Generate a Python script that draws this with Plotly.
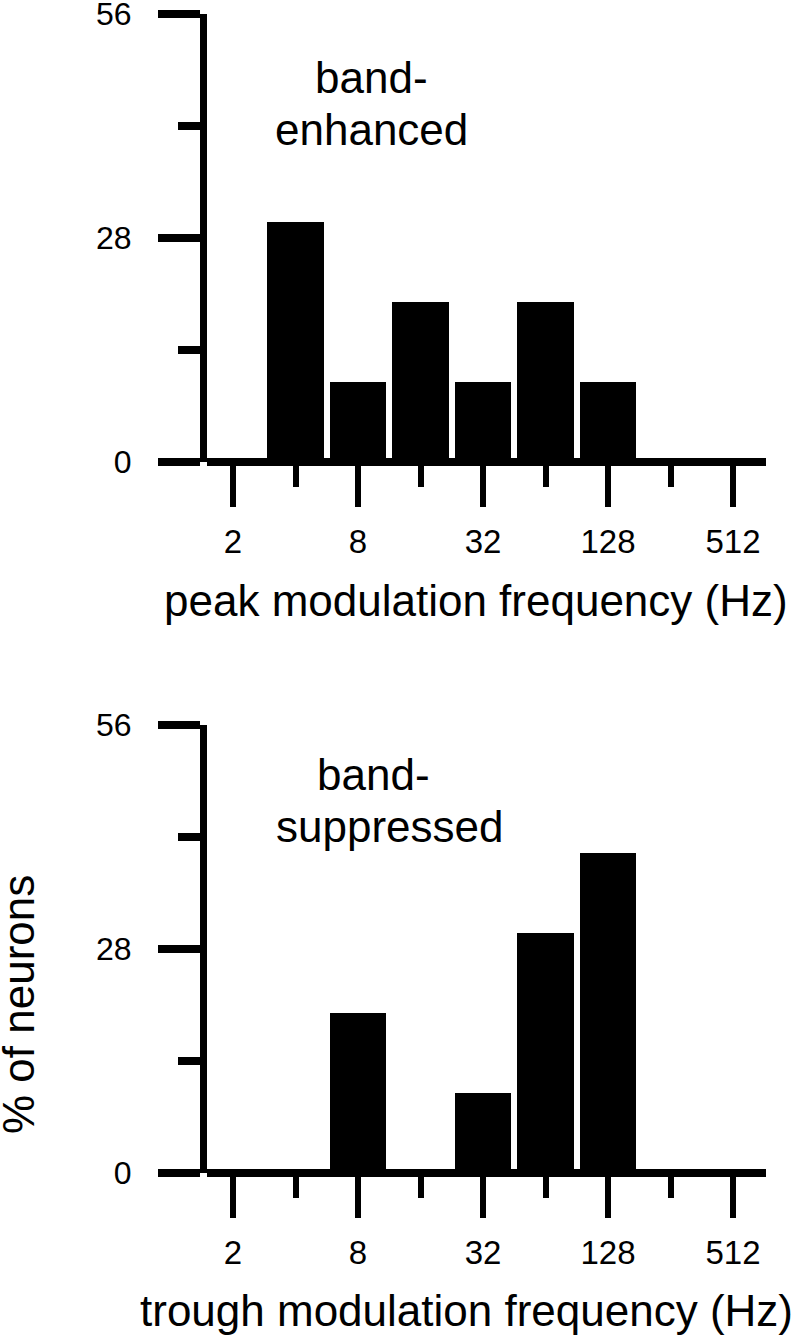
import numpy as np
import plotly.graph_objects as go

# ---- data ----
freqs = [2, 4, 8, 16, 32, 64, 128, 256, 512]           # Hz, bin centres (octave bins)
pct_enhanced = [0, 30, 10, 20, 10, 20, 10, 0, 0]        # % of band-enhanced neurons
pct_suppressed = [0, 0, 20, 0, 10, 30, 40, 0, 0]        # % of band-suppressed neurons
major_tick_freqs = [2, 8, 32, 128, 512]
major_tick_text = ["2", "8", "32", "128", "512"]
minor_tick_freqs = [4, 16, 64, 256]
y_major_ticks = [0, 28, 56]
y_minor_ticks = [14, 42]

W, H = 800, 1344
FONT = "Arial, Liberation Sans, Helvetica, sans-serif"

def px(x):
    return x / W

def py(y):
    return 1 - y / H

# pixel layout
x_left, x_right = 207, 766
octave = 62.5
x0 = 1 - (233 - x_left) / octave
x1 = x0 + (x_right - x_left) / octave

fig = go.Figure()
for i, vals in enumerate([pct_enhanced, pct_suppressed]):
    fig.add_trace(go.Bar(
        x=np.log2(freqs), y=vals, width=0.9,
        marker=dict(color="black", line=dict(width=0)),
        xaxis="x" if i == 0 else "x2", yaxis="y" if i == 0 else "y2",
        showlegend=False, hoverinfo="skip",
    ))

def xax(domain_anchor):
    return dict(
        domain=[px(x_left), px(x_right)], anchor=domain_anchor, automargin=False,
        range=[x0, x1], showgrid=False, zeroline=False, showline=False,
        tickmode="array", tickvals=np.log2(major_tick_freqs), ticktext=major_tick_text,
        ticks="outside", ticklen=44, tickwidth=6, tickcolor="black",
        minor=dict(tickmode="array", tickvals=np.log2(minor_tick_freqs),
                   ticks="outside", ticklen=24, tickwidth=6, tickcolor="black"),
        tickfont=dict(family=FONT, size=33, color="black"),
        ticklabelstandoff=6, ticklabeloverflow="allow", fixedrange=True,
    )

def yax(domain, anchor):
    return dict(
        domain=domain, anchor=anchor, range=[0, 56], automargin=False,
        showgrid=False, zeroline=True, zerolinewidth=8, zerolinecolor="black",
        showline=True, linewidth=7, linecolor="black",
        tickmode="array", tickvals=y_major_ticks,
        ticks="outside", ticklen=42, tickwidth=8, tickcolor="black",
        minor=dict(tickmode="array", tickvals=y_minor_ticks,
                   ticks="outside", ticklen=22, tickwidth=8, tickcolor="black"),
        tickfont=dict(family=FONT, size=32, color="black"),
        ticklabelstandoff=20, ticklabeloverflow="allow", fixedrange=True,
    )

fig.update_layout(
    width=W, height=H,
    margin=dict(l=0, r=0, t=0, b=0, autoexpand=False),
    paper_bgcolor="white", plot_bgcolor="white",
    xaxis=xax("y"), yaxis=yax([py(462), py(14)], "x"),
    xaxis2=xax("y2"), yaxis2=yax([py(1173), py(725)], "x2"),
    bargap=0,
)

ann = [
    ("band-", 371, 92, 44),
    ("enhanced", 371, 144, 44),
    ("band-", 373, 789, 44),
    ("suppressed", 389, 841, 44),
    ("peak modulation frequency (Hz)", 476, 615, 44),
    ("trough modulation frequency (Hz)", 466, 1325, 44),
]
for text, x, base, size in ann:
    fig.add_annotation(text=text, x=px(x), y=py(base - 0.33 * size), xref="paper", yref="paper",
                       xanchor="center", yanchor="middle", showarrow=False,
                       font=dict(family=FONT, size=size, color="black"))
fig.add_annotation(text="% of neurons", x=px(19), y=py(1005), xref="paper", yref="paper",
                   xanchor="center", yanchor="middle", showarrow=False, textangle=-90,
                   font=dict(family=FONT, size=44, color="black"))

fig.write_html(
    "out.html",
    config={"displayModeBar": False, "staticPlot": True},
    post_script="document.body.style.margin='0';document.body.style.overflow='hidden';",
)
